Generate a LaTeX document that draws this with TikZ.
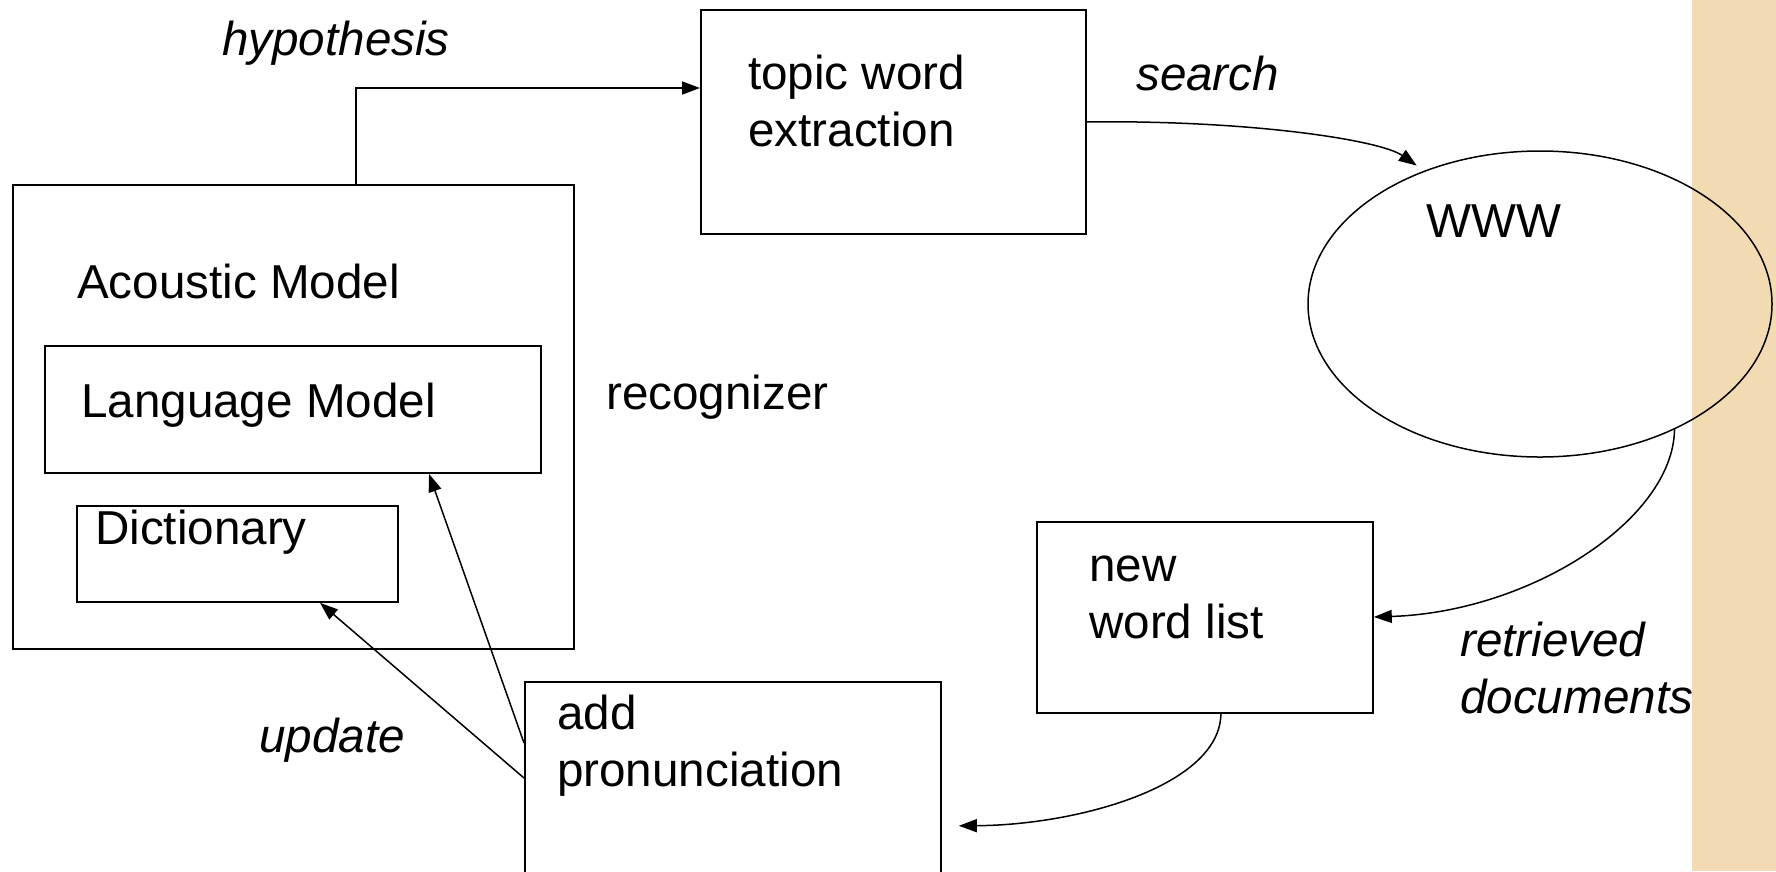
\documentclass[tikz,border=0pt]{standalone}
\usepackage{fontspec}
\setmainfont{Liberation Sans}
\usetikzlibrary{arrows.meta,shapes.geometric}
\definecolor{sidebar}{RGB}{242,218,179}
\begin{document}
\begin{tikzpicture}[x=1pt,y=-1pt,
  box/.style={draw, line width=1.8pt, inner sep=0pt, anchor=north west},
  lbl/.style={anchor=base west, inner sep=0pt, align=left,
    font=\fontsize{47.6}{57}\selectfont},
  ilbl/.style={lbl, font=\fontsize{47.6}{57}\selectfont\itshape},
  conn/.style={line width=1.5pt, -{Triangle[length=18pt,width=13pt]}}]
\useasboundingbox (0,0) rectangle (1776,871);
\clip (0,0) rectangle (1776,871);

% side bar
\fill[sidebar] (1692,0) rectangle (1776,871);

% recognizer and its parts
\node[box, minimum width=561pt, minimum height=464pt] (ac) at (12,184) {};
\node[box, minimum width=496pt, minimum height=127pt] (lm) at (44,345) {};
\node[box, minimum width=321pt, minimum height=96pt] (dict) at (76,505) {};

% processing steps
\node[box, minimum width=385pt, minimum height=224pt] (topic) at (700,9) {};
\node[box, minimum width=416pt, minimum height=288pt] (ap) at (524,681) {};
\node[box, minimum width=336pt, minimum height=191pt] (nwl) at (1036,521) {};
\node[draw, line width=1.5pt, ellipse, inner sep=0pt,
      minimum width=464pt, minimum height=306pt] (www) at (1540,304) {};

% texts (multi-line labels are placed by the baseline of their last line)
\node[lbl] (tAc) at (77,298) {Acoustic Model};
\node[lbl] (tLm) at (81,417) {Language Model};
\node[lbl] (tDict) at (95,544) {Dictionary};
\node[lbl] (tRec) at (606,409) {recognizer};
\node[lbl] (tTopic) at (748,146) {topic word\\extraction};
\node[lbl] (tWww) at (1426,237) {WWW};
\node[lbl] (tNwl) at (1089,638) {new\\word list};
\node[lbl] (tAp) at (557,786) {add\\pronunciation};
\node[ilbl] (tHyp) at (222,55) {hypothesis};
\node[ilbl] (tSearch) at (1136,90) {search};
\node[ilbl] (tRet) at (1460,713) {retrieved\\documents};
\node[ilbl] (tUpd) at (259,752) {update};

% connectors
\draw[conn] ([xshift=344pt]ac.north west) |- ([yshift=-79pt]topic.north west);
\draw[conn, shorten >=9pt] (topic.east) .. controls (1250,120) and (1380,140) .. (www.131);
\draw[conn] (www.-43) .. controls (1673,520) and (1530,612) .. (nwl.east |- 0,617);
\draw[conn, shorten >=17pt] ([xshift=16pt]nwl.south) .. controls (1220,785) and (1080,825) .. (ap.east);
\draw[conn] ([yshift=-62pt]ap.north west) -- ([xshift=385pt]lm.south west);
\draw[conn] ([yshift=-97pt]ap.north west) -- ([xshift=244pt]dict.south west);
\end{tikzpicture}
\end{document}
